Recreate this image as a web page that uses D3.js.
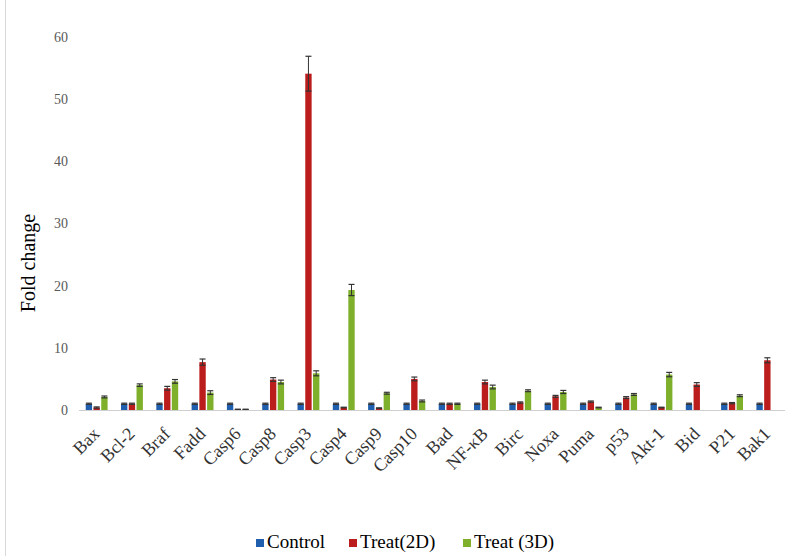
<!DOCTYPE html>
<html>
<head>
<meta charset="utf-8">
<script src="https://cdn.jsdelivr.net/npm/d3@7"></script>
<style>
  html, body { margin: 0; padding: 0; background: #fff; }
  svg { display: block; }
</style>
</head>
<body>
<svg id="chart" width="795" height="556"></svg>
<script>
// Gene expression fold change (mean ± error) for each gene
const genes = ["Bax", "Bcl-2", "Braf", "Fadd", "Casp6", "Casp8", "Casp3", "Casp4", "Casp9", "Casp10",
               "Bad", "NF-κB", "Birc", "Noxa", "Puma", "p53", "Akt-1", "Bid", "P21", "Bak1"];
const seriesNames = ["Control", "Treat(2D)", "Treat (3D)"];

const controlValues = [1, 1, 1, 1, 1, 1, 1, 1, 1, 1, 1, 1, 1, 1, 1, 1, 1, 1, 1, 1];
const treat2DValues = [0.4, 1.0, 3.5, 7.7, 0.1, 4.9, 54.1, 0.4, 0.3, 5.0, 1.0, 4.5, 1.2, 2.2, 1.35, 2.0, 0.4, 4.1, 1.1, 8.0];
const treat3DValues = [2.1, 4.0, 4.6, 2.8, 0.1, 4.5, 5.9, 19.3, 2.7, 1.45, 1.0, 3.7, 3.1, 2.9, 0.4, 2.5, 5.7, 0, 2.3, 0];

const controlErrors = [0.1, 0.1, 0.1, 0.1, 0.1, 0.1, 0.1, 0.1, 0.1, 0.1, 0.1, 0.1, 0.1, 0.1, 0.1, 0.1, 0.1, 0.1, 0.1, 0.1];
const treat2DErrors = [0.1, 0.1, 0.3, 0.5, 0.03, 0.3, 2.8, 0.05, 0.05, 0.3, 0.1, 0.3, 0.1, 0.15, 0.1, 0.15, 0.05, 0.3, 0.1, 0.4];
const treat3DErrors = [0.15, 0.2, 0.3, 0.3, 0.02, 0.3, 0.4, 0.9, 0.15, 0.15, 0.1, 0.3, 0.15, 0.25, 0.05, 0.15, 0.35, 0, 0.15, 0];

const yTicks = [0, 10, 20, 30, 40, 50, 60];
const colors = ["#1f5fae", "#bb1d1d", "#7fb02b"];

const seriesValues = [controlValues, treat2DValues, treat3DValues];
const seriesErrors = [controlErrors, treat2DErrors, treat3DErrors];

const serif = "Liberation Serif, Times New Roman, serif";
const svg = d3.select("#chart");

const plot = { left: 79, right: 785, top: 37, bottom: 410 };

const x = d3.scaleBand().domain(genes).range([plot.left, plot.right]).paddingInner(0.38).paddingOuter(0.19);
const xInner = d3.scaleBand().domain(d3.range(3)).range([0, x.bandwidth()]).paddingInner(0.18);
const y = d3.scaleLinear().domain([0, 60]).range([plot.bottom, plot.top]);

// Frame edge on the left
svg.append("line")
  .attr("x1", 5.5).attr("x2", 5.5).attr("y1", 0).attr("y2", 556)
  .attr("stroke", "#d9d9d9").attr("stroke-width", 1);

// Y axis labels only (no axis line or ticks)
const yAxis = svg.append("g")
  .attr("transform", `translate(${plot.left - 11},0)`)
  .call(d3.axisLeft(y).tickValues(yTicks).tickSize(0).tickPadding(0));
yAxis.select(".domain").remove();
yAxis.selectAll("text")
  .attr("font-family", serif)
  .attr("font-size", 14)
  .attr("fill", "#595959");

// Y axis title
svg.append("text")
  .attr("transform", "translate(35,263) rotate(-90)")
  .attr("text-anchor", "middle")
  .attr("font-family", serif)
  .attr("font-size", 20)
  .attr("fill", "#000")
  .text("Fold change");

// Bars
const groups = svg.append("g").selectAll("g")
  .data(genes)
  .join("g")
  .attr("transform", d => `translate(${x(d)},0)`);

groups.each(function (g, i) {
  const grp = d3.select(this);
  const data = seriesValues.map((vals, s) => ({ s, v: vals[i], e: seriesErrors[s][i] }))
    .filter(d => d.v > 0);
  grp.selectAll("rect")
    .data(data)
    .join("rect")
    .attr("x", d => xInner(d.s))
    .attr("y", d => y(d.v))
    .attr("width", xInner.bandwidth())
    .attr("height", d => Math.max(1, y(0) - y(d.v)))
    .attr("fill", d => colors[d.s]);

  // Error bars
  const eb = grp.selectAll("g.err")
    .data(data.filter(d => d.e > 0))
    .join("g")
    .attr("class", "err")
    .attr("transform", d => `translate(${xInner(d.s) + xInner.bandwidth() / 2},0)`);
  eb.append("line")
    .attr("x1", 0).attr("x2", 0)
    .attr("y1", d => y(d.v + d.e)).attr("y2", d => y(Math.max(0, d.v - d.e)))
    .attr("stroke", "#333").attr("stroke-width", 1);
  eb.append("line")
    .attr("x1", -3).attr("x2", 3)
    .attr("y1", d => y(d.v + d.e)).attr("y2", d => y(d.v + d.e))
    .attr("stroke", "#333").attr("stroke-width", 1.2);
  eb.append("line")
    .attr("x1", -3).attr("x2", 3)
    .attr("y1", d => y(Math.max(0, d.v - d.e))).attr("y2", d => y(Math.max(0, d.v - d.e)))
    .attr("stroke", "#333").attr("stroke-width", 1.2);
});

// Baseline
svg.append("line")
  .attr("x1", plot.left).attr("x2", plot.right)
  .attr("y1", y(0) + 0.5).attr("y2", y(0) + 0.5)
  .attr("stroke", "#cfcfcf").attr("stroke-width", 1);

// Category labels rotated 45 degrees
const xAxis = svg.append("g")
  .attr("transform", `translate(0,${plot.bottom})`)
  .call(d3.axisBottom(x).tickSize(0).tickPadding(0));
xAxis.select(".domain").remove();
xAxis.selectAll("text")
  .attr("font-family", serif)
  .attr("font-size", 18)
  .attr("fill", "#333")
  .attr("text-anchor", "end")
  .attr("y", 0)
  .attr("dy", 0)
  .attr("transform", "translate(4,25) rotate(-45)");

// Legend
const legendItems = [
  { name: seriesNames[0], x: 256 },
  { name: seriesNames[1], x: 349 },
  { name: seriesNames[2], x: 463 }
];
const legend = svg.append("g").selectAll("g")
  .data(legendItems)
  .join("g")
  .attr("transform", d => `translate(${d.x},0)`);
legend.append("rect")
  .attr("x", 0).attr("y", 539)
  .attr("width", 8).attr("height", 8)
  .attr("fill", (d, i) => colors[i]);
legend.append("text")
  .attr("x", 11).attr("y", 548)
  .attr("font-family", serif)
  .attr("font-size", 19)
  .attr("fill", "#000")
  .text(d => d.name);
</script>
</body>
</html>
